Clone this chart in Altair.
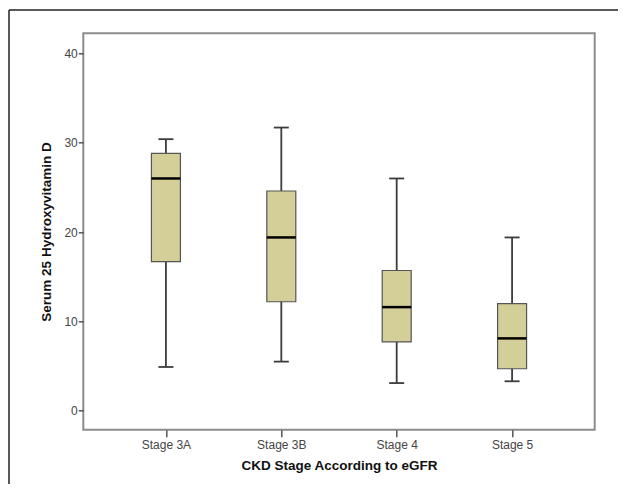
import altair as alt
import pandas as pd

stages = ["Stage 3A", "Stage 3B", "Stage 4", "Stage 5"]
whisker_low = [4.9, 5.5, 3.1, 3.3]
q1 = [16.7, 12.2, 7.7, 4.7]
median = [26.0, 19.4, 11.6, 8.1]
q3 = [28.8, 24.6, 15.7, 12.0]
whisker_high = [30.4, 31.7, 26.0, 19.4]
y_ticks = [0, 10, 20, 30, 40]

df = pd.DataFrame({
    "stage": stages,
    "low": whisker_low,
    "q1": q1,
    "median": median,
    "q3": q3,
    "high": whisker_high,
})

FONT = "Liberation Sans"

x_enc = alt.X(
    "stage:N",
    sort=stages,
    scale=alt.Scale(type="point", padding=0.716),
    axis=alt.Axis(
        title="CKD Stage According to eGFR",
        labelAngle=0,
        domain=False,
        tickSize=7,
        tickColor="#555555",
        tickWidth=1.5,
        labelColor="#444444",
        labelFontSize=12,
        labelFont=FONT,
        labelPadding=3,
        titleFont=FONT,
        titleFontSize=13.5,
        titleFontWeight="bold",
        titleColor="#111111",
        titlePadding=8,
    ),
)
y_scale = alt.Scale(domain=[-2.12, 42.25], nice=False, zero=False)
y_axis = alt.Axis(
    title="Serum 25 Hydroxyvitamin D",
    values=y_ticks,
    grid=False,
    domain=False,
    tickSize=5,
    tickColor="#555555",
    tickWidth=1.5,
    labelColor="#444444",
    labelFontSize=12,
    labelFont=FONT,
    labelPadding=1,
    titleFont=FONT,
    titleFontSize=13.5,
    titleFontWeight="bold",
    titleColor="#111111",
    titlePadding=10,
)

base = alt.Chart(df)

whisk = base.mark_rule(color="#3c3c3c", strokeWidth=1.8).encode(
    x=x_enc, y=alt.Y("low:Q", scale=y_scale, axis=y_axis), y2="high:Q"
)
box = base.mark_bar(size=29, color="#D4CF98", stroke="#555555", strokeWidth=1.2, opacity=1).encode(
    x=x_enc, y=alt.Y("q1:Q", scale=y_scale, axis=y_axis), y2="q3:Q"
)
med = base.mark_tick(size=29, thickness=2.5, color="#000000", opacity=1).encode(
    x=x_enc, y=alt.Y("median:Q", scale=y_scale, axis=y_axis)
)
cap_hi = base.mark_tick(size=15, thickness=1.8, color="#3c3c3c", opacity=1).encode(
    x=x_enc, y=alt.Y("high:Q", scale=y_scale, axis=y_axis)
)
cap_lo = base.mark_tick(size=15, thickness=1.8, color="#3c3c3c", opacity=1).encode(
    x=x_enc, y=alt.Y("low:Q", scale=y_scale, axis=y_axis)
)

one = alt.Chart(pd.DataFrame({"a": [0]}))
border_top = one.mark_rule(color="#222222", strokeWidth=1.5).encode(
    x=alt.value(-74.3), x2=alt.value(700), y=alt.value(-23.3)
)
border_left = one.mark_rule(color="#222222", strokeWidth=1.5).encode(
    x=alt.value(-74.3), y=alt.value(-23.3), y2=alt.value(700)
)

chart = alt.layer(border_top, border_left, whisk, box, med, cap_hi, cap_lo).properties(
    width=511.4,
    height=396.4,
    padding={"left": 75.3, "top": 25.3, "right": 23.3, "bottom": 54.3},
    autosize=alt.AutoSizeParams(type="none"),
    background="white",
).configure_view(stroke="#8c8c8c", strokeWidth=2)

chart.save("out.html", embed_options={"renderer": "svg", "actions": False})
